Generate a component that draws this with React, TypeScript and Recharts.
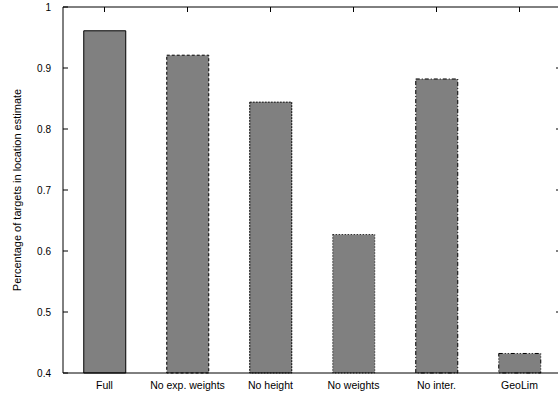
import React from 'react';
import { BarChart, Bar, XAxis, YAxis, Cell, ReferenceLine } from 'recharts';

const categories = ['Full', 'No exp. weights', 'No height', 'No weights', 'No inter.', 'GeoLim'];
const values = [0.961, 0.921, 0.844, 0.627, 0.882, 0.432];
const yTicks = [0.4, 0.5, 0.6, 0.7, 0.8, 0.9, 1.0];
const dashes = ['', '3 2', '2 1', '1 2', '4 2 1 2', '4 2 1 2 1 2'];

const data = categories.map((name, i) => ({ name, value: values[i] }));

const FONT = 'Liberation Sans, Arial, Helvetica, sans-serif';
const TICK = 5;
const LEFT_MARGIN = 12;

const LeftTick = (props: any) => {
  const { x, y, payload } = props;
  const ax = x + LEFT_MARGIN;
  return (
    <g>
      <path d={`M${ax},${y}h${TICK}`} stroke="#000" strokeWidth={1} fill="none" />
      <text x={x} y={y} dy="0.35em" textAnchor="end" fill="#000" fontSize={10} fontFamily={FONT}>
        {String(+Number(payload.value).toFixed(1))}
      </text>
    </g>
  );
};

const TopTick = (props: any) => {
  const { x, y } = props;
  return <path d={`M${x},${y}v${TICK}`} stroke="#000" strokeWidth={1} fill="none" />;
};

const RightTickShape = (props: any) => {
  const { x1, x2, y1 } = props;
  const right = Math.max(x1, x2);
  return <path d={`M${right - TICK},${y1}h${TICK}`} stroke="#000" strokeWidth={1} fill="none" />;
};

export default function App() {
  return (
    <div style={{ position: 'absolute', left: 0, top: 0, width: 558, height: 393, overflow: 'hidden', background: '#fff' }}>
      <BarChart
        width={570}
        height={393}
        data={data}
        margin={{ top: 0, right: 9, bottom: 0, left: 20 }}
        barCategoryGap="25%"
      >
        <XAxis
          xAxisId="bottom"
          dataKey="name"
          orientation="bottom"
          height={20}
          interval={0}
          tickLine={false}
          axisLine={{ stroke: '#000', strokeWidth: 1 }}
          tickMargin={3}
          tick={{ fill: '#000', fontSize: 10.5, fontFamily: FONT }}
        />
        <XAxis
          xAxisId="top"
          dataKey="name"
          orientation="top"
          height={7}
          interval={0}
          tickSize={0}
          tickMargin={0}
          tickLine={false}
          axisLine={{ stroke: '#000', strokeWidth: 1 }}
          tick={<TopTick />}
        />
        <YAxis
          yAxisId="left"
          orientation="left"
          width={43}
          domain={[0.4, 1]}
          ticks={yTicks}
          interval={0}
          tickSize={0}
          tickMargin={LEFT_MARGIN}
          tickLine={false}
          axisLine={{ stroke: '#000', strokeWidth: 1 }}
          tick={<LeftTick />}
        />
        {yTicks.slice(1, -1).map((v) => (
          <ReferenceLine key={v} y={v} yAxisId="left" xAxisId="bottom" shape={RightTickShape} />
        ))}
        <Bar dataKey="value" xAxisId="bottom" yAxisId="left" fill="#808080" isAnimationActive={false}>
          {data.map((d, i) => (
            <Cell key={d.name} fill="#808080" stroke="#000" strokeWidth={1} strokeDasharray={dashes[i] || undefined} />
          ))}
        </Bar>
      </BarChart>
      <div
        style={{
          position: 'absolute',
          left: 17,
          top: 190,
          transform: 'translate(-50%, -50%) rotate(-90deg)',
          whiteSpace: 'nowrap',
          fontFamily: FONT,
          fontSize: 11,
          color: '#000',
        }}
      >
        Percentage of targets in location estimate
      </div>
    </div>
  );
}
